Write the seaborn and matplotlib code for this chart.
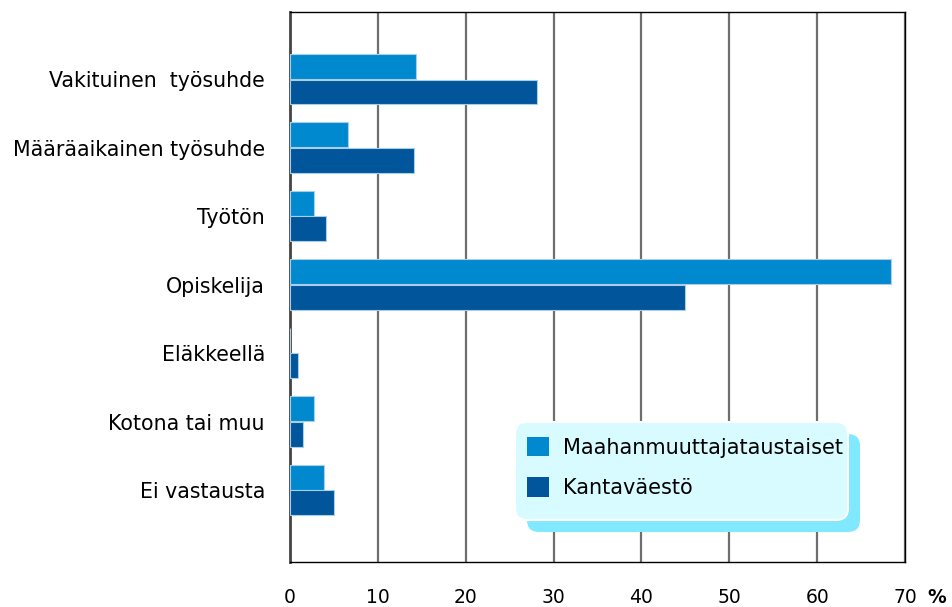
import matplotlib
matplotlib.use("Agg")
import matplotlib.pyplot as plt
from matplotlib.patches import FancyBboxPatch, Patch
import seaborn as sns
import pandas as pd

# -------------------- Data --------------------
categories = [
    "Vakituinen  työsuhde",
    "Määräaikainen työsuhde",
    "Työtön",
    "Opiskelija",
    "Eläkkeellä",
    "Kotona tai muu",
    "Ei vastausta",
]
series_names = ["Maahanmuuttajataustaiset", "Kantaväestö"]
immigrant = [14.3, 6.6, 2.7, 68.4, 0.0, 2.7, 3.9]
native = [28.1, 14.1, 4.1, 45.0, 0.9, 1.5, 5.0]
x_ticks = [0, 10, 20, 30, 40, 50, 60, 70]

colors = ["#0089cf", "#00559b"]

df = pd.DataFrame({
    "category": categories * 2,
    "group": [series_names[0]] * len(categories) + [series_names[1]] * len(categories),
    "value": immigrant + native,
})

# -------------------- Plot --------------------
sns.set_style("white")
plt.rcParams["font.family"] = ["DejaVu Sans"]
plt.rcParams["text.color"] = "black"
plt.rcParams["xtick.color"] = "black"
plt.rcParams["ytick.color"] = "black"

W, H = 952, 607
fig = plt.figure(figsize=(W / 100, H / 100), dpi=100)
ax = fig.add_axes([290 / W, 1 - 562 / H, 615 / W, 550 / H])

sns.barplot(
    data=df, x="value", y="category", hue="group",
    order=categories, hue_order=series_names,
    palette=colors, saturation=1, orient="h", width=0.75, gap=0.03,
    edgecolor="#a9cfe8", linewidth=0.8,
    legend=False, ax=ax, zorder=3,
)

ax.set_xlim(0, 70)
ax.set_ylim(7.05, -0.98)
ax.set_xticks(x_ticks)
ax.set_xticklabels([str(t) for t in x_ticks], fontsize=13.5)
ax.tick_params(axis="x", length=10, width=1, color="black", pad=9, direction="out")
ax.tick_params(axis="y", length=0, pad=18, labelsize=14.8)
ax.set_xlabel("")
ax.set_ylabel("")

ax.grid(True, axis="x", color="#6e6e6e", linewidth=1.6, zorder=0)
ax.grid(False, axis="y")
ax.set_axisbelow(True)
for sp in ax.spines.values():
    sp.set_visible(True)
    sp.set_color("black")
    sp.set_linewidth(1.0)
ax.spines["left"].set_color("#444444")
ax.spines["left"].set_linewidth(2)

ax.annotate("%", xy=(1, 0), xycoords="axes fraction", xytext=(16, -29.5),
            textcoords="offset points", fontsize=13.5, fontweight="bold",
            ha="left", va="baseline", annotation_clip=False)

# legend box with shadow (pixel coordinates)
bx0, bx1, by0, by1 = 515, 848, H - 520, H - 422
shadow = FancyBboxPatch((bx0 + 12, by0 - 12), bx1 - bx0, by1 - by0,
                        boxstyle="round,pad=0,rounding_size=12",
                        facecolor="#80e9ff", edgecolor="none", transform=None, zorder=5)
box = FancyBboxPatch((bx0, by0), bx1 - bx0, by1 - by0,
                     boxstyle="round,pad=0,rounding_size=12",
                     facecolor="#d8fbff", edgecolor="white", linewidth=1.5,
                     transform=None, zorder=6)
fig.add_artist(shadow)
fig.add_artist(box)

handles = [Patch(facecolor=c, edgecolor="none") for c in colors]
leg = fig.legend(handles, series_names, loc="upper left",
                 bbox_to_anchor=(508 / W, 1 - 418 / H), frameon=False,
                 fontsize=15, handlelength=1.05, handleheight=1.05,
                 handletextpad=0.67, labelspacing=0.95)
leg.set_zorder(7)

fig.savefig("out.png", dpi=100)
